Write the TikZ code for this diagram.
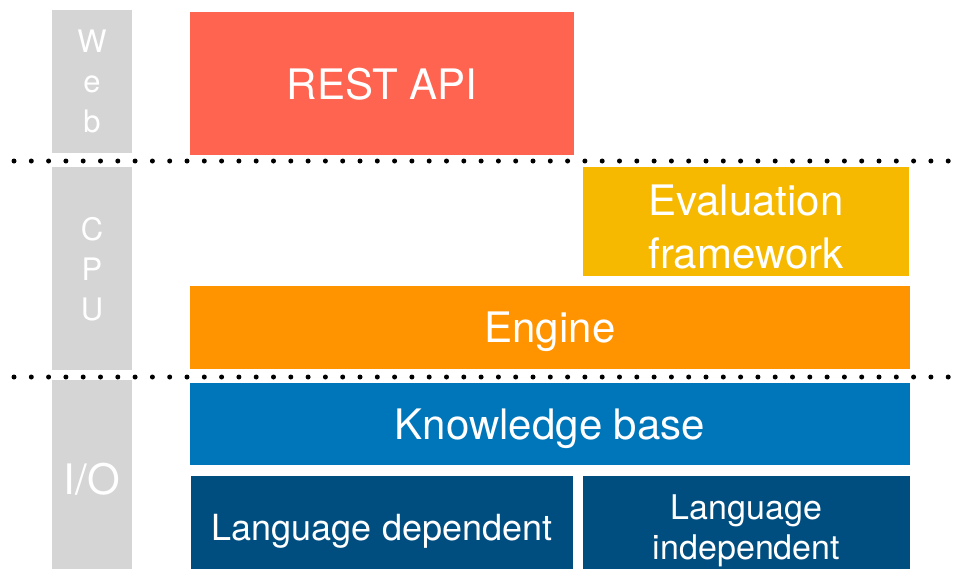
\documentclass[tikz,border=0pt]{standalone}
\usepackage{fontspec}
\usepackage{xcolor}
\setmainfont{TeX Gyre Heros}

\definecolor{restred}{HTML}{FF6450}
\definecolor{evalyellow}{HTML}{F6B900}
\definecolor{engineorange}{HTML}{FF9300}
\definecolor{kbblue}{HTML}{0076BA}
\definecolor{langblue}{HTML}{004D7F}
\definecolor{tiergray}{HTML}{D5D5D5}

\tikzset{
  block/.style={rectangle, inner sep=0pt, text=white, align=center, text depth=0pt},
  tier/.style={block, fill=tiergray, minimum width=80pt},
  bigtext/.style={font=\fontsize{42}{53}\selectfont},
  smalltext/.style={font=\fontsize{34}{40}\selectfont},
  tiertext/.style={font=\fontsize{31}{40}\selectfont},
  sep/.style={line width=5pt, line cap=round, dash pattern=on 0pt off 17.3pt}
}

\begin{document}
\begin{tikzpicture}[x=1pt, y=-1pt]
\useasboundingbox (0,0) rectangle (961,568);
\clip (0,0) rectangle (961,568);

% tiers
\node[tier, tiertext, minimum height=143pt] (web) at (92,81.5) {W\\e\\b};
\node[tier, tiertext, minimum height=203pt] (cpu) at (92,268.5) {C\\P\\U};
\node[tier, font=\fontsize{42}{50}\selectfont, minimum height=198pt] (io) at (92,479) {I/O};

% separators
\draw[sep] (14,161) -- (961,161);
\draw[sep] (14,377) -- (961,377);

% blocks
\node[block, bigtext, fill=restred, minimum width=384pt, minimum height=143pt] (rest) at (382,83.5) {REST API};
\node[block, bigtext, fill=evalyellow, minimum width=326pt, minimum height=109pt, text height=93pt] (eval) at (746,221.5) {Evaluation\\framework};
\node[block, bigtext, fill=engineorange, minimum width=720pt, minimum height=83pt] (engine) at (550,327.5) {Engine};
\node[block, bigtext, fill=kbblue, minimum width=720pt, minimum height=82pt] (kb) at (550,424) {Knowledge base};
\node[block, font=\fontsize{36}{40}\selectfont, fill=langblue, minimum width=382pt, minimum height=102pt] (dep) at (382,527) {Language dependent};
\node[block, smalltext, fill=langblue, minimum width=327pt, minimum height=102pt] (indep) at (746.5,527) {Language\\independent};
\end{tikzpicture}
\end{document}
